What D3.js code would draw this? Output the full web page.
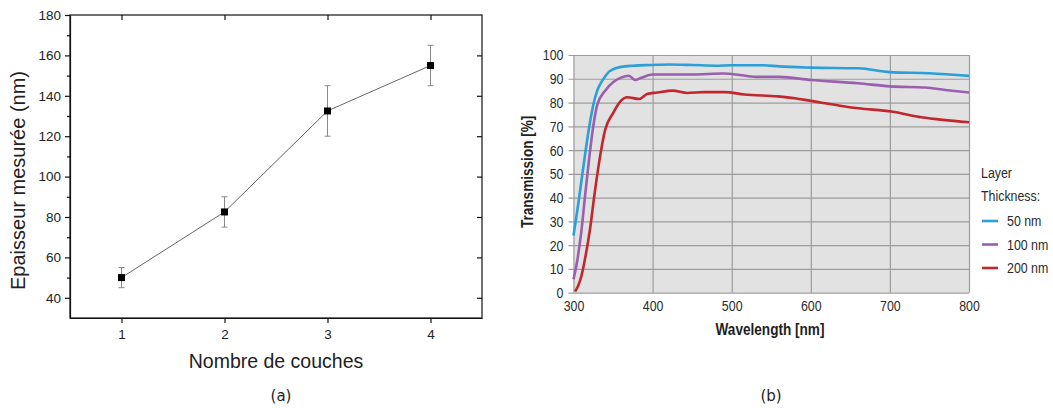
<!DOCTYPE html>
<html>
<head>
<meta charset="utf-8">
<script src="https://cdn.jsdelivr.net/npm/d3@7"></script>
<style>
  body { margin: 0; background: #fff; }
</style>
</head>
<body>
<div id="canvas"></div>
<script>
const width = 1053;
const height = 408;

// panel (a): measured thickness vs number of layers
var layers = [1, 2, 3, 4];
var thickness = [50, 82.5, 132.5, 155];
var errLow = [45, 75, 120, 145];
var errHigh = [55, 90, 145, 165];
var yTicksA = [40, 60, 80, 100, 120, 140, 160, 180];
var yMinorA = [50, 70, 90, 110, 130, 150, 170];

// panel (b): transmission spectra
var series50 = [
    [300, 24], [305, 35], [310, 47], [315, 59], [320, 70], [325, 79], [330, 85],
    [335, 88.5], [340, 91], [345, 93], [350, 94], [360, 95], [375, 95.5],
    [400, 95.8], [420, 96], [450, 95.8], [480, 95.5], [500, 95.7], [540, 95.7],
    [560, 95.2], [600, 94.7], [660, 94.4], [700, 92.8], [750, 92.3], [800, 91.2]
];
var series100 = [
    [300, 5.6], [305, 14], [310, 26], [315, 42], [320, 57], [325, 70], [330, 79],
    [340, 85], [350, 88.5], [360, 90.5], [370, 91.3], [378, 89.5], [385, 90.3],
    [400, 91.8], [450, 91.8], [490, 92.2], [510, 91.6], [530, 90.8], [560, 90.8],
    [600, 89.5], [660, 88.1], [700, 86.8], [745, 86.3], [770, 85.3], [800, 84.2]
];
var series200 = [
    [302, 0.5], [306, 3], [310, 7], [315, 15], [321, 27], [326, 40], [332, 54],
    [340, 68.5], [350, 75.5], [359, 80.4], [368, 82.2], [383, 81.5], [393, 83.6],
    [406, 84.2], [425, 85], [444, 84], [465, 84.4], [491, 84.4], [516, 83.4],
    [558, 82.6], [580, 81.8], [600, 80.7], [660, 77.6], [702, 76.2], [740, 73.8],
    [767, 72.7], [800, 71.7]
];
var xTicksB = [300, 400, 500, 600, 700, 800];
var yTicksB = [0, 10, 20, 30, 40, 50, 60, 70, 80, 90, 100];
var legendNames = ["50 nm", "100 nm", "200 nm"];
var legendColors = ["#2b9fd9", "#9a5fae", "#c1272d"];

const svg = d3.select("#canvas")
    .append("svg")
    .attr("width", width)
    .attr("height", height)
    .style("background-color", "white");

// ---------- panel (a) ----------
var xA = d3.scaleLinear().domain([0.5, 4.5]).range([70, 482]);
var yA = d3.scaleLinear().domain([30, 180]).range([318, 15]);
var fontA = "'Liberation Sans', Arial, sans-serif";

var gA = svg.append("g");

gA.append("rect")
    .attr("x", xA(0.5)).attr("y", yA(180))
    .attr("width", xA(4.5) - xA(0.5)).attr("height", yA(30) - yA(180))
    .attr("fill", "none").attr("stroke", "#111").attr("stroke-width", 1.2);

gA.append("g").attr("transform", `translate(0,${yA(30)})`)
    .call(d3.axisBottom(xA).tickValues(layers).tickFormat(d3.format("d"))
        .tickSize(5).tickPadding(6).tickSizeOuter(0));
gA.append("g").attr("transform", `translate(${xA(0.5)},0)`)
    .call(d3.axisLeft(yA).tickValues(yTicksA).tickSize(5).tickPadding(4).tickSizeOuter(0));
gA.append("g").attr("transform", `translate(${xA(0.5)},0)`)
    .call(d3.axisLeft(yA).tickValues(yMinorA).tickSize(3).tickFormat("").tickSizeOuter(0))
    .select(".domain").remove();
gA.append("g").attr("transform", `translate(0,${yA(180)})`)
    .call(d3.axisTop(xA).tickValues(layers).tickSize(-5).tickFormat("").tickSizeOuter(0))
    .select(".domain").remove();
gA.append("g").attr("transform", `translate(${xA(4.5)},0)`)
    .call(d3.axisRight(yA).tickValues(yTicksA.slice(0, 7)).tickSize(-5).tickFormat("").tickSizeOuter(0))
    .select(".domain").remove();

gA.selectAll(".domain").attr("stroke", "#111").attr("stroke-width", 1.2);
gA.selectAll(".tick line").attr("stroke", "#111").attr("stroke-width", 1.2);
gA.selectAll(".tick text").attr("font-family", fontA).attr("font-size", "13.5px").attr("fill", "#222");

var ptsA = layers.map((d, i) => ({ x: d, y: thickness[i], lo: errLow[i], hi: errHigh[i] }));

gA.append("path")
    .datum(ptsA)
    .attr("fill", "none")
    .attr("stroke", "#666")
    .attr("stroke-width", 1)
    .attr("d", d3.line().x(d => xA(d.x)).y(d => yA(d.y)));

var err = gA.selectAll(".err").data(ptsA).join("g").attr("class", "err")
    .attr("stroke", "#888").attr("stroke-width", 1);
err.append("line")
    .attr("x1", d => xA(d.x)).attr("x2", d => xA(d.x))
    .attr("y1", d => yA(d.lo)).attr("y2", d => yA(d.hi));
err.append("line")
    .attr("x1", d => xA(d.x) - 3).attr("x2", d => xA(d.x) + 3)
    .attr("y1", d => yA(d.lo)).attr("y2", d => yA(d.lo));
err.append("line")
    .attr("x1", d => xA(d.x) - 3).attr("x2", d => xA(d.x) + 3)
    .attr("y1", d => yA(d.hi)).attr("y2", d => yA(d.hi));

gA.selectAll(".mk").data(ptsA).join("rect").attr("class", "mk")
    .attr("x", d => xA(d.x) - 3.5).attr("y", d => yA(d.y) - 3.5)
    .attr("width", 7).attr("height", 7).attr("fill", "#000");

gA.append("text")
    .attr("transform", `translate(25,${(yA(30) + yA(180)) / 2 + 14}) rotate(-90)`)
    .attr("text-anchor", "middle")
    .attr("font-family", fontA).attr("font-size", "20px").attr("fill", "#222")
    .text("Epaisseur mesurée (nm)");

gA.append("text")
    .attr("x", 276).attr("y", 368)
    .attr("text-anchor", "middle")
    .attr("font-family", fontA).attr("font-size", "19.5px").attr("fill", "#222")
    .text("Nombre de couches");

svg.append("text")
    .attr("x", 281).attr("y", 401)
    .attr("text-anchor", "middle")
    .attr("font-family", "'DejaVu Sans', sans-serif").attr("font-size", "15px").attr("fill", "#222")
    .text("(a)");

// ---------- panel (b) ----------
var xB = d3.scaleLinear().domain([300, 800]).range([573.5, 969]);
var yB = d3.scaleLinear().domain([0, 100]).range([292.7, 55]);
var fontB = "'Liberation Sans', Arial, sans-serif";
var narrow = 0.8; // horizontal squeeze to mimic a condensed face

var gB = svg.append("g");

gB.append("rect")
    .attr("x", xB(300)).attr("y", yB(100))
    .attr("width", xB(800) - xB(300)).attr("height", yB(0) - yB(100))
    .attr("fill", "#e2e2e2");

gB.append("g").attr("transform", `translate(${xB(300)},0)`)
    .call(d3.axisLeft(yB).tickValues(yTicksB).tickSize(-(xB(800) - xB(300) + 5)).tickPadding(4).tickSizeOuter(0))
    .call(g => g.selectAll(".tick line").attr("transform", "translate(-5,0)"))
    .call(g => g.selectAll(".tick text").attr("x", -10 / narrow))
    .select(".domain").remove();
gB.append("g").attr("transform", `translate(0,${yB(0)})`)
    .call(d3.axisBottom(xB).tickValues(xTicksB).tickSize(-(yB(0) - yB(100))).tickPadding(7).tickSizeOuter(0))
    .select(".domain").remove();

gB.selectAll(".tick line").attr("stroke", "#9c9c9c").attr("stroke-width", 1.2);
gB.selectAll(".tick text")
    .attr("font-family", fontB).attr("font-size", "15.5px").attr("fill", "#2a2a2a")
    .attr("transform", `scale(${narrow},1)`);

var lineB = d3.line().x(d => xB(d[0])).y(d => yB(d[1])).curve(d3.curveMonotoneX);
[series50, series100, series200].forEach((s, i) => {
    gB.append("path")
        .datum(s)
        .attr("fill", "none")
        .attr("stroke", legendColors[i])
        .attr("stroke-width", 2.6)
        .attr("stroke-linejoin", "round")
        .attr("d", lineB);
});

gB.append("text")
    .attr("transform", `translate(533,${(yB(0) + yB(100)) / 2 - 2}) rotate(-90) scale(${narrow},1)`)
    .attr("text-anchor", "middle")
    .attr("font-family", fontB).attr("font-size", "17px").attr("font-weight", "bold").attr("fill", "#1e1e1e")
    .text("Transmission [%]");

gB.append("text")
    .attr("transform", `translate(770,335) scale(${narrow},1)`)
    .attr("text-anchor", "middle")
    .attr("font-family", fontB).attr("font-size", "17px").attr("font-weight", "bold").attr("fill", "#1e1e1e")
    .text("Wavelength [nm]");

var leg = gB.append("g").attr("font-family", fontB).attr("font-size", "15.5px").attr("fill", "#2a2a2a");
leg.append("text").attr("transform", `translate(981,178) scale(${narrow},1)`).text("Layer");
leg.append("text").attr("transform", `translate(981,201) scale(${narrow},1)`).text("Thickness:");
legendNames.forEach((n, i) => {
    var yy = 221 + i * 23.5;
    leg.append("line")
        .attr("x1", 982).attr("x2", 998).attr("y1", yy).attr("y2", yy)
        .attr("stroke", legendColors[i]).attr("stroke-width", 2.6);
    leg.append("text").attr("transform", `translate(1007,${yy + 5}) scale(${narrow},1)`).text(n);
});

svg.append("text")
    .attr("x", 771).attr("y", 401)
    .attr("text-anchor", "middle")
    .attr("font-family", "'DejaVu Sans', sans-serif").attr("font-size", "15px").attr("fill", "#222")
    .text("(b)");
</script>
</body>
</html>
